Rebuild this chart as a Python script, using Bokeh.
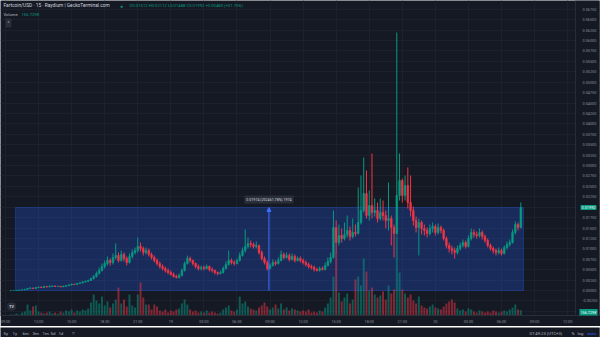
import numpy as np
from bokeh.plotting import figure
from bokeh.models import (Range1d, FixedTicker, NumeralTickFormatter, BoxAnnotation,
                          Arrow, NormalHead, Label, ColumnDataSource, Span)
from bokeh.layouts import column
from bokeh.embed import file_html
from bokeh.resources import INLINE

# ---------------- data ----------------
chart_title = "Fartcoin/USD · 15 · Raydium | GeckoTerminal.com"
start_hour = 9.5        # first candle 18 Oct 09:30 (hours from 18 Oct 00:00)
bar_hours = 0.25        # 15-minute candles
first_open = 0.000007

close = [
    0.000012, 0.000024, 0.000048, 0.000096, 0.000168, 0.000288, 0.00048, 0.0006, 0.00048, 0.00072,
    0.00084, 0.00072, 0.00096, 0.00084, 0.00096, 0.00108, 0.00096, 0.00101, 0.00086, 0.00101,
    0.00115, 0.00132, 0.00149, 0.00144, 0.00168, 0.0018, 0.00204, 0.00216, 0.0024, 0.00288,
    0.00336, 0.00408, 0.0048, 0.00576, 0.00648, 0.0072, 0.00672, 0.00792, 0.0084, 0.0072,
    0.00864, 0.00768, 0.00672, 0.00816, 0.00912, 0.0096, 0.01056, 0.01008, 0.00912, 0.0096,
    0.00864, 0.00792, 0.0072, 0.00648, 0.00576, 0.00528, 0.0048, 0.00432, 0.00384, 0.00336,
    0.00312, 0.0036, 0.0048, 0.00648, 0.00768, 0.0072, 0.00648, 0.00576, 0.00528, 0.00552,
    0.00528, 0.00576, 0.00504, 0.0048, 0.00432, 0.00408, 0.00432, 0.00528, 0.00624, 0.0072,
    0.00672, 0.00648, 0.0072, 0.0084, 0.0096, 0.01056, 0.01128, 0.01104, 0.01056, 0.0108,
    0.00912, 0.00768, 0.00672, 0.00528, 0.006, 0.00672, 0.00648, 0.0072, 0.00864, 0.00792,
    0.0084, 0.00744, 0.00816, 0.0072, 0.00768, 0.0072, 0.00672, 0.00624, 0.00576, 0.00552,
    0.00504, 0.0048, 0.00528, 0.00504, 0.006, 0.00696, 0.00792, 0.01512, 0.01152, 0.0132,
    0.01248, 0.01344, 0.0144, 0.01296, 0.01392, 0.01368, 0.01632, 0.0192, 0.02328, 0.018,
    0.0204, 0.01872, 0.0192, 0.01728, 0.01872, 0.018, 0.0168, 0.01728, 0.01512, 0.01368,
    0.0228, 0.0264, 0.0228, 0.0252, 0.02112, 0.0192, 0.0168, 0.01512, 0.01632, 0.01488,
    0.0144, 0.01368, 0.01488, 0.01536, 0.01392, 0.01512, 0.0144, 0.01248, 0.0108, 0.01008,
    0.0096, 0.00912, 0.01008, 0.0108, 0.01152, 0.01056, 0.01248, 0.01392, 0.01344, 0.0132,
    0.01392, 0.01296, 0.012, 0.0108, 0.01008, 0.0096, 0.00912, 0.0096, 0.00888, 0.01032,
    0.01104, 0.01152, 0.01392, 0.01584, 0.01512, 0.01992,
]

high = [
    0.000019, 0.000036, 0.000072, 0.000144, 0.00024, 0.000384, 0.000624, 0.000768, 0.000696, 0.000864,
    0.00101, 0.000936, 0.00115, 0.00106, 0.00125, 0.00127, 0.00118, 0.00115, 0.00108, 0.00118,
    0.00134, 0.00149, 0.00168, 0.00166, 0.00187, 0.00202, 0.00226, 0.0024, 0.00264, 0.00312,
    0.00372, 0.00456, 0.00552, 0.00648, 0.0072, 0.00816, 0.00768, 0.00888, 0.01128, 0.00912,
    0.0096, 0.00912, 0.00816, 0.00888, 0.00984, 0.01032, 0.01272, 0.01152, 0.01056, 0.01032,
    0.01008, 0.00912, 0.0084, 0.00768, 0.00696, 0.00624, 0.00576, 0.00528, 0.0048, 0.00432,
    0.00384, 0.00408, 0.00528, 0.00696, 0.0084, 0.00816, 0.00744, 0.00672, 0.00624, 0.006,
    0.006, 0.00624, 0.006, 0.00552, 0.00504, 0.00456, 0.0048, 0.00576, 0.00696, 0.0096,
    0.00768, 0.0072, 0.00768, 0.00912, 0.01032, 0.01464, 0.01272, 0.012, 0.01152, 0.01176,
    0.01104, 0.0096, 0.00816, 0.0072, 0.00648, 0.00744, 0.0072, 0.00792, 0.0096, 0.00912,
    0.00912, 0.00888, 0.00888, 0.00864, 0.00816, 0.00816, 0.00768, 0.0072, 0.00672, 0.00624,
    0.006, 0.00552, 0.00576, 0.00576, 0.00672, 0.00792, 0.00912, 0.0192, 0.0168, 0.01584,
    0.01488, 0.01632, 0.018, 0.01536, 0.01728, 0.01584, 0.02472, 0.0276, 0.03192, 0.0288,
    0.024, 0.03288, 0.02208, 0.02112, 0.02208, 0.0216, 0.0192, 0.02592, 0.018, 0.01584,
    0.06192, 0.03288, 0.02688, 0.0276, 0.02952, 0.0276, 0.02016, 0.01776, 0.01728, 0.0168,
    0.01584, 0.01512, 0.01584, 0.01632, 0.01584, 0.01608, 0.0156, 0.01488, 0.01296, 0.01152,
    0.0108, 0.01032, 0.0108, 0.01152, 0.01224, 0.012, 0.0132, 0.01488, 0.01464, 0.01416,
    0.01488, 0.0144, 0.01344, 0.01248, 0.01128, 0.01056, 0.01008, 0.01032, 0.01008, 0.0108,
    0.01176, 0.01224, 0.01464, 0.01656, 0.01632, 0.02112,
]

low = [
    0.000005, 0.00001, 0.000019, 0.000036, 0.000084, 0.000144, 0.00024, 0.000408, 0.000384, 0.000432,
    0.000648, 0.000624, 0.000672, 0.000744, 0.000792, 0.000888, 0.000864, 0.000864, 0.000768, 0.000816,
    0.00096, 0.00108, 0.00125, 0.00132, 0.00137, 0.00158, 0.00173, 0.00192, 0.00206, 0.00228,
    0.00264, 0.00312, 0.00384, 0.00456, 0.00528, 0.006, 0.006, 0.00624, 0.00744, 0.00672,
    0.00696, 0.00696, 0.006, 0.00648, 0.00768, 0.00864, 0.00912, 0.00936, 0.0084, 0.00864,
    0.00816, 0.00744, 0.00672, 0.006, 0.00528, 0.0048, 0.00432, 0.00384, 0.0036, 0.00312,
    0.00288, 0.00288, 0.00336, 0.00456, 0.00624, 0.00672, 0.006, 0.00528, 0.0048, 0.0048,
    0.0048, 0.00504, 0.00456, 0.00432, 0.00384, 0.0036, 0.00384, 0.00408, 0.00504, 0.006,
    0.00624, 0.006, 0.00624, 0.00696, 0.00816, 0.00912, 0.01008, 0.01032, 0.01008, 0.01008,
    0.00864, 0.0072, 0.00624, 0.0048, 0.00504, 0.00576, 0.006, 0.00624, 0.00696, 0.00744,
    0.00768, 0.00696, 0.0072, 0.00672, 0.00696, 0.00672, 0.00624, 0.00576, 0.00528, 0.00504,
    0.00456, 0.00456, 0.00456, 0.0048, 0.0048, 0.00576, 0.00648, 0.00768, 0.00912, 0.0108,
    0.01152, 0.012, 0.01272, 0.012, 0.01248, 0.01296, 0.01344, 0.01584, 0.01872, 0.01728,
    0.0168, 0.01728, 0.01776, 0.01632, 0.0168, 0.0168, 0.01488, 0.0144, 0.0108, 0.00792,
    0.0132, 0.0216, 0.02112, 0.0216, 0.01968, 0.01776, 0.0156, 0.01392, 0.0084, 0.01344,
    0.0132, 0.01272, 0.0132, 0.01392, 0.0132, 0.01344, 0.01368, 0.012, 0.01008, 0.00912,
    0.00864, 0.00768, 0.00864, 0.0096, 0.01032, 0.01008, 0.01032, 0.012, 0.01272, 0.01248,
    0.01272, 0.01224, 0.01152, 0.01032, 0.0096, 0.00888, 0.0084, 0.00864, 0.0084, 0.00864,
    0.00984, 0.01056, 0.01128, 0.01344, 0.0144, 0.01488,
]

volume_k = [
    30, 30, 60, 30, 90, 120, 330, 150, 270, 300,
    120, 90, 60, 90, 120, 60, 90, 60, 120, 90,
    150, 120, 180, 90, 150, 120, 180, 150, 210, 390,
    630, 450, 360, 570, 300, 420, 240, 360, 480, 840,
    360, 480, 270, 630, 300, 240, 630, 990, 540, 330,
    330, 180, 330, 270, 150, 120, 180, 90, 150, 120,
    180, 210, 360, 480, 330, 180, 120, 150, 90, 120,
    90, 150, 90, 120, 90, 60, 90, 180, 240, 300,
    150, 120, 180, 570, 360, 420, 270, 210, 180, 150,
    240, 300, 390, 270, 180, 240, 330, 210, 360, 180,
    240, 150, 210, 180, 150, 120, 150, 120, 180, 90,
    120, 90, 150, 120, 240, 360, 540, 1170, 1920, 690,
    420, 540, 660, 360, 480, 1080, 1170, 900, 1710, 1320,
    750, 840, 630, 540, 600, 720, 480, 900, 660, 780,
    2370, 1290, 780, 660, 540, 630, 450, 360, 570, 300,
    240, 210, 270, 330, 240, 210, 180, 270, 360, 420,
    480, 390, 210, 150, 180, 120, 210, 180, 120, 90,
    150, 120, 90, 120, 90, 150, 120, 90, 120, 150,
    120, 180, 240, 330, 180, 156.729,
]

time_ticks = [9, 12, 15, 18, 21, 24, 27, 30, 33, 36, 39, 42, 45, 48, 51, 54, 57, 60]
time_labels = ["09:00", "12:00", "15:00", "18:00", "21:00", "19", "03:00", "06:00", "09:00",
               "12:00", "15:00", "18:00", "21:00", "20", "03:00", "06:00", "09:00", "12:00"]
price_ticks = [round(-0.005 + 0.0025 * k, 5) for k in range(31)]

# price-range measuring tool
range_start, range_end = 9.9, 56.0
range_low, range_high = 0.0, 0.01992
measure_hour = 32.9
measure_text = "0.01974 (202461.78%) 1974"

bottom_buttons = ["5y", "1y", "6m", "3m", "1m", "5d", "1d"]
clock_text = "07:49:23 (UTC+3)"

# ---------------- styling ----------------
BG = "#151924"
GRID = "#1d212c"
UP = "#089981"
DOWN = "#f23645"
AXIS_TXT = "#8b8f9a"
FONT = "Roboto"
X0, X1 = 8.547, 62.89      # visible time window (hours)
PANE_END = 60.72           # where the price-scale column starts

n = len(close)
hours = start_hour + bar_hours * np.arange(n)
opens = [first_open] + close[:-1]
inc = [c >= o for o, c in zip(opens, close)]
colors = [UP if k else DOWN for k in inc]

src = ColumnDataSource(dict(
    x=hours, open=opens, close=close, high=high, low=low,
    top=[max(o, c) for o, c in zip(opens, close)],
    bottom=[min(o, c) for o, c in zip(opens, close)],
    color=colors, vol=volume_k,
))

p = figure(width=600, height=326, x_range=Range1d(X0, X1), y_range=Range1d(-0.006, 0.0696),
           toolbar_location=None, output_backend="svg", y_axis_location="right",
           min_border_left=0, min_border_top=0, min_border_right=0, min_border_bottom=11,
           background_fill_color=BG, border_fill_color=BG, outline_line_color=None)
p.extra_y_ranges = {"vol": Range1d(0, 9450)}

p.xgrid.grid_line_color = GRID
p.ygrid.grid_line_color = GRID

p.yaxis.ticker = FixedTicker(ticks=price_ticks)
p.yaxis.formatter = NumeralTickFormatter(format="0.00000")
p.xaxis.ticker = FixedTicker(ticks=time_ticks)
p.xaxis.major_label_overrides = {t: l for t, l in zip(time_ticks, time_labels)}
for ax in (p.xaxis[0], p.yaxis[0]):
    ax.axis_line_color = "#2a2e39"
    ax.major_tick_line_color = None
    ax.minor_tick_line_color = None
    ax.major_tick_out = 0
    ax.major_tick_in = 0
    ax.minor_tick_out = 0
    ax.minor_tick_in = 0
    ax.major_label_text_color = AXIS_TXT
    ax.major_label_text_font = FONT
    ax.major_label_text_font_size = "3.8px"
p.yaxis.axis_line_color = None
p.yaxis.major_label_standoff = -17
p.xaxis.major_label_standoff = 3

# price-scale column: cover grid, separator line
p.add_layout(BoxAnnotation(left=PANE_END, fill_color=BG, fill_alpha=1.0, line_color=None,
                           level="underlay"))
p.add_layout(Span(location=PANE_END, dimension="height", line_color="#2a2e39", line_width=1))

p.add_layout(BoxAnnotation(left=range_start, right=range_end, bottom=range_low, top=range_high,
                           fill_color="#2962ff", fill_alpha=0.25, line_color="#2962ff",
                           line_width=1, level="underlay"))

p.vbar(x="x", width=bar_hours * 0.72, top="vol", bottom=0, source=src, y_range_name="vol",
       fill_color="color", fill_alpha=0.5, line_color=None)

p.segment(x0="x", y0="high", x1="x", y1="low", source=src, line_color="color", line_width=1)
p.vbar(x="x", width=bar_hours * 0.6, top="top", bottom="bottom", source=src,
       fill_color="color", line_color="color", line_width=0.6)

p.add_layout(Arrow(end=NormalHead(size=4, fill_color="#3d6fff", line_color="#3d6fff"),
                   x_start=measure_hour, y_start=range_low, x_end=measure_hour, y_end=range_high,
                   line_color="#3d6fff", line_width=1))
p.add_layout(Label(x=measure_hour, y=range_high, y_offset=4, text=measure_text,
                   text_align="center", text_baseline="bottom", text_font=FONT,
                   text_font_size="3.6px", text_color="#d1d4dc",
                   background_fill_color="#2a2e39", background_fill_alpha=1.0, padding=2))

FH = 315
o_l, h_l, l_l, c_l = opens[-1], high[-1], low[-1], close[-1]
chg = c_l - o_l
legend_ohlc = f"O{o_l:.5f} H{h_l:.5f} L{l_l:.5f} C{c_l:.5f} {chg:+.5f} ({chg / o_l * 100:+.2f}%)"
p.add_layout(Label(x=3, y=FH - 5, x_units="screen", y_units="screen", text=chart_title,
                   text_font=FONT, text_font_size="4.8px", text_color="#d1d4dc",
                   text_baseline="middle"))
p.add_layout(Label(x=121, y=FH - 5, x_units="screen", y_units="screen", text="●",
                   text_font=FONT, text_font_size="5px", text_color=UP,
                   text_baseline="middle", text_align="center"))
p.add_layout(Label(x=129, y=FH - 5, x_units="screen", y_units="screen", text=legend_ohlc,
                   text_font=FONT, text_font_size="4.2px", text_color=UP,
                   text_baseline="middle"))
p.add_layout(Label(x=3, y=FH - 13.5, x_units="screen", y_units="screen", text="Volume",
                   text_font=FONT, text_font_size="4.2px", text_color="#b2b5be",
                   text_baseline="middle"))
p.add_layout(Label(x=21, y=FH - 13.5, x_units="screen", y_units="screen",
                   text=f"{volume_k[-1]:.3f}K",
                   text_font=FONT, text_font_size="4.2px", text_color=UP,
                   text_baseline="middle"))
p.add_layout(Label(x=8, y=FH - 22.5, x_units="screen", y_units="screen", text="^",
                   text_font=FONT, text_font_size="4.5px", text_color="#b2b5be",
                   text_baseline="middle", text_align="center",
                   background_fill_color="#2a2e39", padding=2))
p.add_layout(Label(x=11, y=FH - 306, x_units="screen", y_units="screen", text="TV",
                   text_font=FONT, text_font_size="3.6px", text_font_style="bold",
                   text_color="#d1d4dc", text_baseline="middle", text_align="center",
                   background_fill_color="#2a2e39", padding=2, border_radius=3))

# price & volume tags on the price scale
p.add_layout(Label(x=588, y=close[-1], x_units="screen", text=f"{close[-1]:.5f}",
                   text_font=FONT, text_font_size="3.8px", text_color="#ffffff",
                   text_baseline="middle", text_align="center", level="overlay",
                   background_fill_color=UP, padding=1))
p.add_layout(Label(x=588, y=FH - 312, x_units="screen", y_units="screen",
                   text=f"{volume_k[-1]:.3f}K", level="overlay",
                   text_font=FONT, text_font_size="3.8px", text_color="#ffffff",
                   text_baseline="middle", text_align="center",
                   background_fill_color=UP, padding=1))

# ---------------- bottom strip ----------------
strip = figure(width=600, height=11, x_range=Range1d(0, 600), y_range=Range1d(0, 11),
               toolbar_location=None, output_backend="svg", min_border=0,
               background_fill_color=BG, border_fill_color=BG, outline_line_color=None)
strip.axis.visible = False
strip.grid.visible = False
btn_x = [3, 12, 22, 32, 42, 50, 58]
for bx, bt in zip(btn_x, bottom_buttons):
    strip.add_layout(Label(x=bx, y=5.5, text=bt, text_font=FONT, text_font_size="4.4px",
                           text_color="#b2b5be", text_baseline="middle"))
strip.add_layout(Label(x=73, y=5.5, text="⌗", text_font="DejaVu Sans", text_font_size="5px",
                       text_color="#b2b5be", text_baseline="middle", text_align="center"))
strip.add_layout(Label(x=530, y=5.5, text=clock_text, text_font=FONT, text_font_size="4.2px",
                       text_color="#b2b5be", text_baseline="middle"))
strip.add_layout(Label(x=572, y=5.5, text="%", text_font=FONT, text_font_size="4.2px",
                       text_color="#b2b5be", text_baseline="middle"))
strip.add_layout(Label(x=578, y=5.5, text="log", text_font=FONT, text_font_size="4.2px",
                       text_color="#b2b5be", text_baseline="middle"))
strip.add_layout(Label(x=588, y=5.5, text="auto", text_font=FONT, text_font_size="4.2px",
                       text_color="#2962ff", text_baseline="middle"))

layout = column(p, strip, spacing=0)
open("out.html", "w").write(file_html(layout, INLINE))
